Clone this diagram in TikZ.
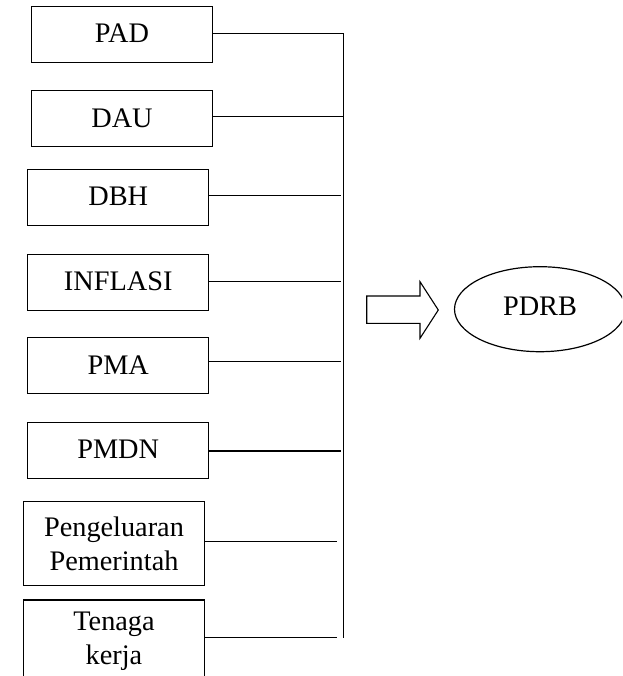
\documentclass[tikz,border=0pt]{standalone}
\usepackage{fontspec}
\setmainfont{Liberation Serif}
\usetikzlibrary{shapes.geometric}
\begin{document}
\begin{tikzpicture}[x=1pt,y=-1pt,
  varbox/.style={draw,line width=1.2pt,minimum width=181pt,minimum height=56pt,inner sep=0pt,
    font=\fontsize{28.3}{34}\selectfont,align=center},
  conn/.style={line width=1.2pt},
  bus/.style={line width=1.6pt},
  txt/.style={font=\fontsize{28.3}{34}\selectfont}]
\useasboundingbox (0,0) rectangle (622,676);
\clip (0,0) rectangle (622,676);
\node[varbox] (pad) at (122,34.5) {\raisebox{2pt}{PAD}};
\node[varbox] (dau) at (122,118.7) {\raisebox{2pt}{DAU}};
\node[varbox] (dbh) at (118.2,197.3) {\raisebox{2pt}{DBH}};
\node[varbox] (inf) at (118.2,282.2) {\raisebox{2pt}{INFLASI}};
\node[varbox] (pma) at (118.2,365.7) {\raisebox{2pt}{PMA}};
\node[varbox] (pmdn) at (118.2,450.5) {\raisebox{2pt}{PMDN}};
\node[varbox,minimum height=84pt] (peng) at (114,543.7) {Pengeluaran\\Pemerintah};
\node[varbox,minimum height=82pt] (ten) at (114,641) {Tenaga\\kerja};
\coordinate (bustop) at (343.3,33.3);
\coordinate (busbot) at (343.3,638);
\draw[bus] (bustop) -- (busbot);
\draw[conn] ([yshift=1.2pt]pad.east) -- (bustop);
\draw[conn] ([yshift=2pt]dau.east) -- ++(131.3,0);
\draw[conn] ([yshift=1.6pt]dbh.east) -- ++(131.7,0);
\draw[conn] ([yshift=0.5pt]inf.east) -- ++(131.7,0);
\draw[conn] ([yshift=4pt]pma.east) -- ++(131.7,0);
\draw[conn] ([yshift=-0.5pt]pmdn.east) -- ++(131.7,0);
\draw[conn] ([yshift=2pt]peng.east) -- ++(132,0);
\draw[conn] ([yshift=3.3pt]ten.east) -- ++(132,0);
\node[draw,ellipse,line width=1.2pt,minimum width=171pt,minimum height=85pt,inner sep=0pt,txt] (pdrb) at (540,309.2) {\raisebox{6pt}{PDRB}};
\draw[line width=1.1pt] (366.7,296) -- (420,296) -- (420,281.7) -- (438.3,310) -- (420,338.3) -- (420,323.3) -- (366.7,323.3) -- cycle;
\end{tikzpicture}
\end{document}
